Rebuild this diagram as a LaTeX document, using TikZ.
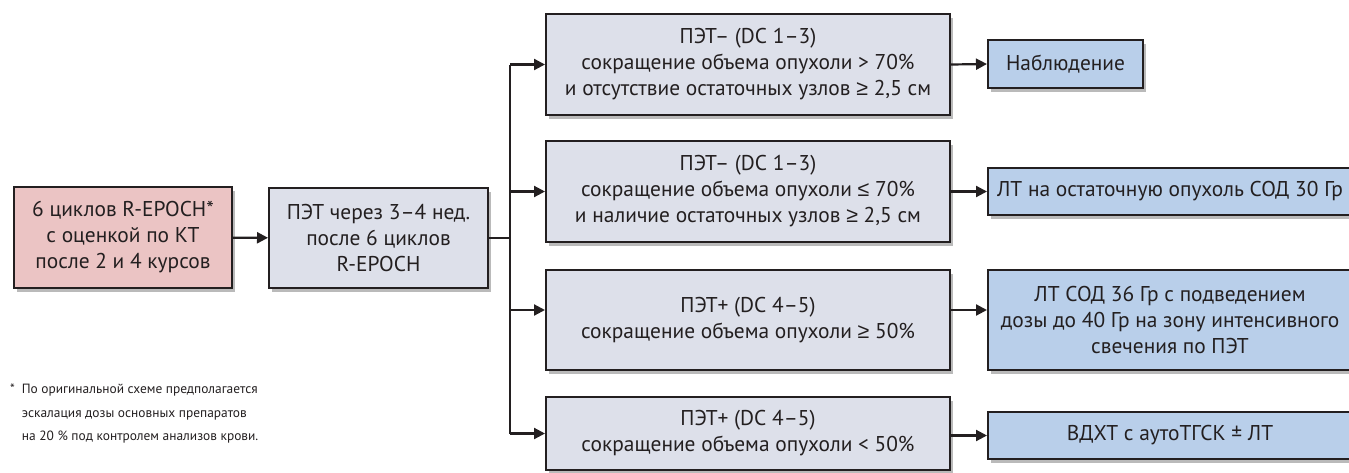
\documentclass[tikz,border=0pt]{standalone}
\usepackage{fontspec}
\setmainfont{PT Sans}
\newfontfamily\mathsymf{Liberation Sans}
\usepackage{tikz}
\usetikzlibrary{arrows.meta,shadows}

\definecolor{inkc}{HTML}{231F20}
\definecolor{redfill}{HTML}{EBC4C4}
\definecolor{grayfill}{HTML}{DDE0EA}
\definecolor{bluefill}{HTML}{B9CFEA}

\newcommand\gesign{{\mathsymf ≥}}
\newcommand\lesign{{\mathsymf ≤}}

\tikzset{
  box/.style={draw=inkc, line width=2pt, align=center, inner sep=2pt,
    text=inkc, font=\fontsize{21.4}{26}\selectfont,
    drop shadow={shadow xshift=3pt, shadow yshift=-4pt, fill=black!45, opacity=.6}},
  startbox/.style={box, fill=redfill},
  petbox/.style={box, fill=grayfill},
  actbox/.style={box, fill=bluefill},
  conn/.style={draw=inkc, line width=2.2pt},
  arr/.style={conn, -{Triangle[length=11pt,width=11pt]}}
}

\begin{document}
\begin{tikzpicture}[x=1pt,y=-1pt]
\useasboundingbox (0,0) rectangle (1349,472);

% left part
\node[startbox, minimum width=218, minimum height=101] (cycles) at (123,237.5)
  {6 циклов R-EPOCH*\\ с оценкой по КТ\\ после 2 и 4 курсов};
\node[petbox, minimum width=219, minimum height=100] (pet) at (378.5,238)
  {ПЭТ через 3–4 нед.\\ после 6 циклов\\ R-EPOCH};

% PET results
\node[petbox, minimum width=404, minimum height=101] (res1) at (748,64.5)
  {ПЭТ– (DC 1–3)\\ сокращение объема опухоли > 70\%\\ и отсутствие остаточных узлов \gesign{} 2,5 см};
\node[petbox, minimum width=404, minimum height=101] (res2) at (748,191.5)
  {ПЭТ– (DC 1–3)\\ сокращение объема опухоли \lesign{} 70\%\\ и наличие остаточных узлов \gesign{} 2,5 см};
\node[petbox, minimum width=404, minimum height=100] (res3) at (748,320)
  {ПЭТ+ (DC 4–5)\\ сокращение объема опухоли \gesign{} 50\%};
\node[petbox, minimum width=404, minimum height=73] (res4) at (748,433.5)
  {ПЭТ+ (DC 4–5)\\ сокращение объема опухоли < 50\%};

% therapy
\node[actbox, minimum width=155, minimum height=48] (act1) at (1065.5,64)
  {Наблюдение};
\node[actbox, minimum width=364, minimum height=47] (act2) at (1170,191.5)
  {ЛТ на остаточную опухоль СОД 30 Гр};
\node[actbox, minimum width=364, minimum height=100] (act3) at (1170,320)
  {ЛТ СОД 36 Гр с подведением\\ дозы до 40 Гр на зону интенсивного\\ свечения по ПЭТ};
\node[actbox, minimum width=364, minimum height=47] (act4) at (1170,435.5)
  {ВДХТ с аутоТГСК ± ЛТ};

% footnote
\node[anchor=north west, inner sep=0pt, text=inkc,
  font=\fontsize{13.4}{23.5}\selectfont] (note) at (10,377)
  {\begin{tabular}{@{}l@{\hspace{7pt}}l@{}}
  * & По оригинальной схеме предполагается\\
    & эскалация дозы основных препаратов\\
    & на 20 \% под контролем анализов крови.
  \end{tabular}};

% connectors
\coordinate (in3) at ([yshift=10pt]res3.west);
\coordinate (out3) at ([yshift=10pt]res3.east);
\draw[arr] (cycles) -- (pet);
\draw[conn] (pet.east) -- ++(21,0) coordinate (fork);
\draw[conn] (fork |- res1) -- (fork |- res4);
\draw[arr] (fork |- res1) -- (res1.west);
\draw[arr] (fork |- res2) -- (res2.west);
\draw[arr] (fork |- in3) -- (in3);
\draw[arr] (fork |- res4) -- (res4.west);

\draw[arr] (res1.east) -- (act1.west);
\draw[arr] (res2.east) -- (act2.west);
\draw[arr] (out3) -- (out3 -| act3.west);
\draw[arr] (res4.east |- act4) -- (act4.west);
\end{tikzpicture}
\end{document}
